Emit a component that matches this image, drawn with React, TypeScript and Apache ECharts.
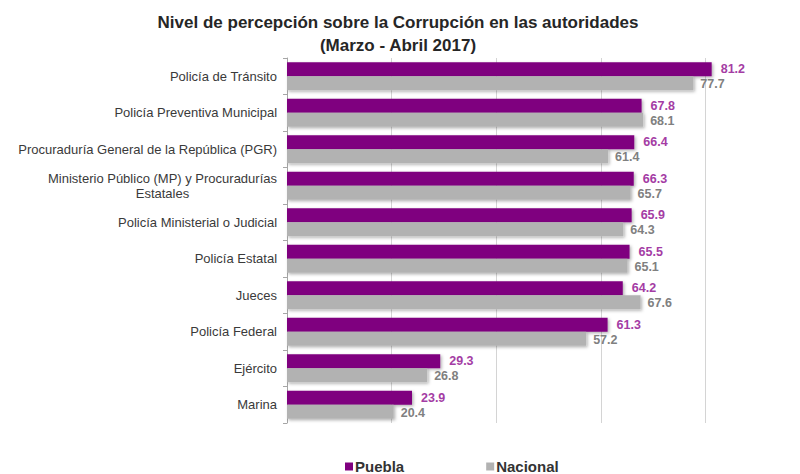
import React, { useEffect, useRef } from "react";
import * as echarts from "echarts";

const categories = [
  "Policía de Tránsito",
  "Policía Preventiva Municipal",
  "Procuraduría General de la República (PGR)",
  "Ministerio Público (MP) y Procuradurías\nEstatales",
  "Policía Ministerial o Judicial",
  "Policía Estatal",
  "Jueces",
  "Policía Federal",
  "Ejército",
  "Marina",
];
const puebla = [81.2, 67.8, 66.4, 66.3, 65.9, 65.5, 64.2, 61.3, 29.3, 23.9];
const nacional = [77.7, 68.1, 61.4, 65.7, 64.3, 65.1, 67.6, 57.2, 26.8, 20.4];
const titleLines = ["Nivel de percepción sobre la Corrupción en las autoridades", "(Marzo - Abril 2017)"];
const seriesNames = ["Puebla", "Nacional"];

export default function App() {
  const ref = useRef<HTMLDivElement>(null);
  useEffect(() => {
    document.body.style.margin = "0";
    document.body.style.overflow = "hidden";
    document.documentElement.style.overflow = "hidden";
    if (!ref.current) return;
    const chart = echarts.init(ref.current, null, { renderer: "svg" });
    const font = "'Liberation Sans', Arial, sans-serif";
    chart.setOption({
      animation: false,
      backgroundColor: "#ffffff",
      textStyle: { fontFamily: font },
      title: {
        text: titleLines.join("\n"),
        left: 393,
        top: 6,
        textAlign: "center",
        textStyle: { fontSize: 17, fontWeight: "bold", color: "#262626", lineHeight: 23, fontFamily: font },
      },
      legend: {
        data: seriesNames,
        left: 340,
        top: 454,
        itemWidth: 8,
        itemHeight: 8,
        itemGap: 82,
        icon: "rect",
        textStyle: { fontSize: 15, fontWeight: "bold", color: "#333333", fontFamily: font, padding: [0, 0, 0, -3] },
      },
      grid: { left: 287, right: 0, top: 58, bottom: 51, containLabel: false },
      xAxis: {
        type: "value",
        min: 0,
        max: 100,
        interval: 20,
        axisLine: { show: false },
        axisTick: { show: false },
        axisLabel: { show: false },
        splitLine: { show: true, lineStyle: { color: "#d4d4d4", width: 1 } },
      },
      yAxis: {
        type: "category",
        data: categories,
        inverse: true,
        axisLine: { show: true, lineStyle: { color: "#a6a6a6", width: 1 } },
        axisTick: { show: true, length: 4, lineStyle: { color: "#a6a6a6" } },
        axisLabel: {
          margin: 10,
          fontSize: 13,
          color: "#3a3a3a",
          fontFamily: font,
          formatter: (v: string) =>
            v
              .split("\n")
              .map((l) => `{c|${l}}`)
              .join("\n"),
          rich: { c: { align: "center", fontSize: 13, color: "#3a3a3a", fontFamily: font, lineHeight: 15 } },
        },
      },
      series: [
        {
          name: seriesNames[0],
          type: "bar",
          data: puebla,
          barWidth: 14,
          barGap: "0%",
          itemStyle: {
            color: "#7f007f",
            shadowColor: "rgba(0,0,0,0.3)",
            shadowBlur: 3,
            shadowOffsetX: 1.5,
            shadowOffsetY: 1.5,
          },
          label: {
            show: true,
            position: "right",
            distance: 9,
            fontSize: 12.5,
            fontWeight: "bold",
            color: "#a43ca4",
            fontFamily: font,
            formatter: (p: any) => p.value.toFixed(1),
          },
        },
        {
          name: seriesNames[1],
          type: "bar",
          data: nacional,
          barWidth: 14,
          barGap: "0%",
          itemStyle: {
            color: "#b2b2b2",
            shadowColor: "rgba(0,0,0,0.3)",
            shadowBlur: 3,
            shadowOffsetX: 1.5,
            shadowOffsetY: 1.5,
          },
          label: {
            show: true,
            position: "right",
            distance: 7,
            offset: [0, 1],
            fontSize: 12.5,
            fontWeight: "bold",
            color: "#808080",
            fontFamily: font,
            formatter: (p: any) => p.value.toFixed(1),
          },
        },
      ],
    });
    return () => chart.dispose();
  }, []);
  return <div ref={ref} style={{ position: "absolute", left: 0, top: 0, width: 810, height: 474 }} />;
}
